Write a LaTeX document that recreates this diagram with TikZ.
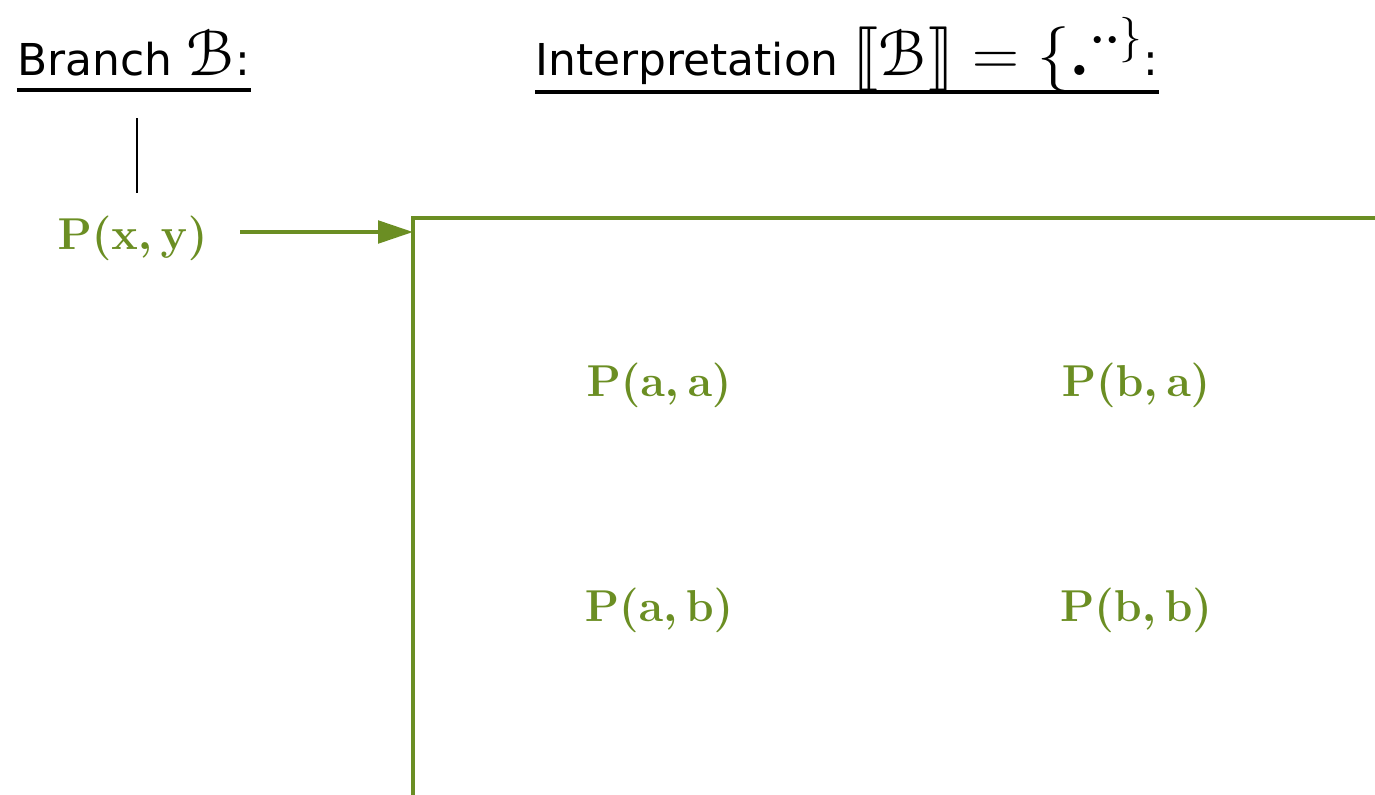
\RequirePackage{fix-cm}
\documentclass[tikz,border=0pt]{standalone}
\usepackage{amsmath}
\usepackage[no-math]{fontspec}
\setmainfont{DejaVu Sans}
\usepackage[mathscr]{eucal}
\usepackage{stmaryrd}
\usepackage{graphicx}
\usepackage{xcolor}
\usetikzlibrary{arrows.meta}
\definecolor{olive}{HTML}{6B8E23}
\newcommand{\thmath}[1]{\scalebox{1.48}{$#1$}}
\tikzset{
  thtitle/.style={anchor=base west, inner sep=0pt, font=\fontsize{25}{30}\selectfont},
  thunder/.style={line width=2.2pt, draw=black},
  thtree/.style={line width=1.2pt, draw=black},
  thatom/.style={text=olive, font=\fontsize{25.4}{30}\selectfont\boldmath},
  tharrow/.style={line width=2.2pt, draw=olive, -{Triangle[length=0.7cm,width=0.45cm]}},
  thbox/.style={line width=2.4pt, draw=olive},
}

\begin{document}
\begin{tikzpicture}
\useasboundingbox (0,0) rectangle (27.5,-15.9);
\clip (0,0) rectangle (27.5,-15.9);
% headings
\node[thtitle] (branch) at (0.340,-1.500) {Branch \thmath{\mathscr{B}}:};
\node[thtitle] (interp) at (10.700,-1.500) {Interpretation \thmath{\llbracket\mathscr{B}\rrbracket=\{\boldsymbol{.}^{\boldsymbol{\cdot}\boldsymbol{\cdot}\}}}:};
\draw[thunder] ([yshift=-0.300cm]branch.base west) -- ([yshift=-0.300cm]branch.base east);
\draw[thunder] ([yshift=-0.340cm]interp.base west) -- ([yshift=-0.340cm]interp.base east);
% branch
\coordinate (top) at (2.740,-2.360);
\coordinate (bot) at (2.740,-3.860);
\draw[thtree] (top) -- (bot);
\node[thatom] (pxy) at (2.650,-4.760) {$\mathbf{P(x,y)}$};
% interpretation
\coordinate (boxnw) at (8.260,-4.360);
\coordinate (boxse) at (28.000,-16.500);
\draw[thbox] (boxnw) rectangle (boxse);
\coordinate (arrs) at (4.800,-4.640);
\coordinate (arre) at (8.260,-4.640);
\draw[tharrow] (arrs) -- (arre);
\node[thatom] (paa) at (13.180,-7.700) {$\mathbf{P(a,a)}$};
\node[thatom] (pba) at (22.720,-7.700) {$\mathbf{P(b,a)}$};
\node[thatom] (pab) at (13.180,-12.200) {$\mathbf{P(a,b)}$};
\node[thatom] (pbb) at (22.720,-12.200) {$\mathbf{P(b,b)}$};
\end{tikzpicture}
\end{document}
